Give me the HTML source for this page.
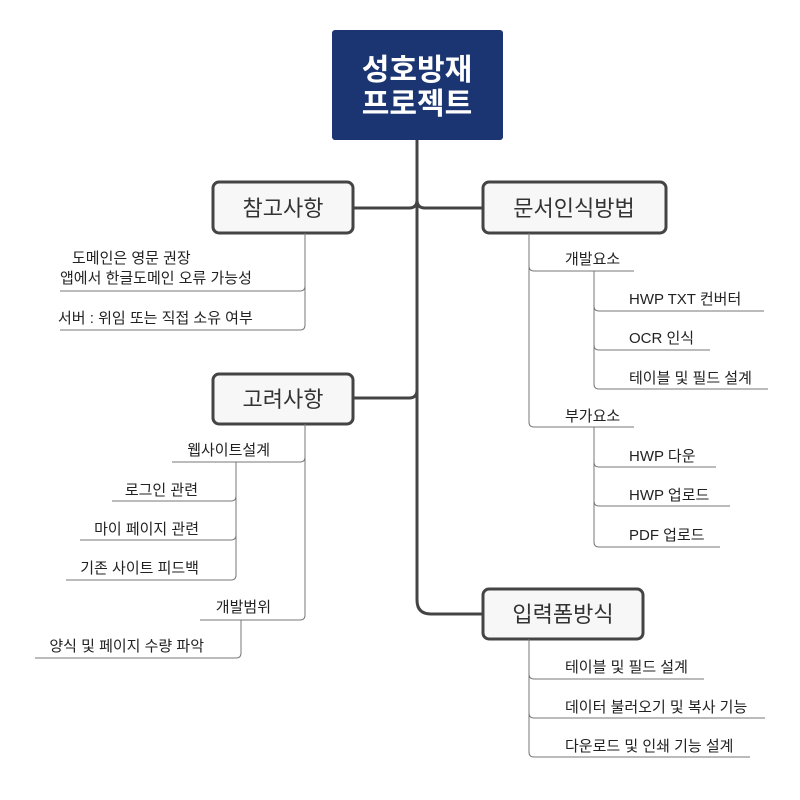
<!DOCTYPE html>
<html><head><meta charset="utf-8"><style>
html,body{margin:0;padding:0;background:#fff;}
svg{display:block;}
text{font-family:"Liberation Sans","Noto Sans CJK KR",sans-serif;}
.t{font-size:15px;fill:#222;}
.b{font-size:22px;fill:#333;text-anchor:middle;}
.l{stroke:#777;stroke-width:1;fill:none;}
.m{stroke:#444;stroke-width:3;fill:none;}
.box{fill:#f7f7f7;stroke:#444;stroke-width:3;}
</style></head><body>
<svg width="800" height="800" viewBox="0 0 800 800">
<!-- trunk -->
<path class="m" d="M417 140 V600 Q417 614 431 614 H483"/>
<path class="m" d="M353 208 H409 Q417 208 417 200 M417 200 Q417 208 425 208 H483"/>
<path class="m" d="M353 398 H409 Q417 398 417 390"/>
<!-- root -->
<rect x="332" y="30" width="171" height="110" rx="3" fill="#1b3572"/>
<text x="417" y="80" font-size="30" font-weight="bold" fill="#fff" text-anchor="middle">성호방재</text>
<text x="417" y="114" font-size="30" font-weight="bold" fill="#fff" text-anchor="middle">프로젝트</text>
<!-- branch boxes -->
<rect class="box" x="213" y="182" width="140" height="51" rx="6"/>
<text class="b" x="283" y="216">참고사항</text>
<rect class="box" x="483" y="182" width="183" height="51" rx="6"/>
<text class="b" x="574" y="216">문서인식방법</text>
<rect class="box" x="213" y="374" width="140" height="50" rx="6"/>
<text class="b" x="283" y="407">고려사항</text>
<rect class="box" x="483" y="589" width="160" height="50" rx="6"/>
<text class="b" x="563" y="622">입력폼방식</text>

<!-- 참고사항 -->
<path class="l" d="M305 233 V325 Q305 330 300 330 H60"/>
<path class="l" d="M305 286 Q305 291 300 291 H60"/>
<text class="t" x="72" y="263">도메인은 영문 권장</text>
<text class="t" x="60" y="283">앱에서 한글도메인 오류 가능성</text>
<text class="t" x="58" y="323">서버 : 위임 또는 직접 소유 여부</text>

<!-- 고려사항 -->
<path class="l" d="M305 424 V615 Q305 620 300 620 H200"/>
<path class="l" d="M305 457 Q305 462 300 462 H172"/>
<path class="l" d="M236 462 V575 Q236 580 231 580 H66"/>
<path class="l" d="M236 496 Q236 501 231 501 H112"/>
<path class="l" d="M236 535 Q236 540 231 540 H80"/>
<path class="l" d="M241 620 V653 Q241 658 236 658 H35"/>
<text class="t" x="270" y="455" text-anchor="end">웹사이트설계</text>
<text class="t" x="198" y="495" text-anchor="end">로그인 관련</text>
<text class="t" x="199" y="534" text-anchor="end">마이 페이지 관련</text>
<text class="t" x="199" y="573" text-anchor="end">기존 사이트 피드백</text>
<text class="t" x="271" y="612" text-anchor="end">개발범위</text>
<text class="t" x="204" y="651" text-anchor="end">양식 및 페이지 수량 파악</text>

<!-- 문서인식방법 -->
<path class="l" d="M529 233 V422 Q529 427 534 427 H634"/>
<path class="l" d="M529 266 Q529 271 534 271 H634"/>
<path class="l" d="M594 271 V384 Q594 389 599 389 H768"/>
<path class="l" d="M594 306 Q594 311 599 311 H764"/>
<path class="l" d="M594 345 Q594 350 599 350 H710"/>
<path class="l" d="M594 427 V542 Q594 547 599 547 H720"/>
<path class="l" d="M594 462 Q594 467 599 467 H716"/>
<path class="l" d="M594 501 Q594 506 599 506 H730"/>
<text class="t" x="565" y="264">개발요소</text>
<text class="t" x="629" y="304">HWP TXT 컨버터</text>
<text class="t" x="629" y="343">OCR 인식</text>
<text class="t" x="629" y="383">테이블 및 필드 설계</text>
<text class="t" x="565" y="421">부가요소</text>
<text class="t" x="629" y="461">HWP 다운</text>
<text class="t" x="629" y="500">HWP 업로드</text>
<text class="t" x="629" y="540">PDF 업로드</text>

<!-- 입력폼방식 -->
<path class="l" d="M529 639 V752 Q529 757 534 757 H750"/>
<path class="l" d="M529 674 Q529 679 534 679 H704"/>
<path class="l" d="M529 713 Q529 718 534 718 H765"/>
<text class="t" x="565" y="672">테이블 및 필드 설계</text>
<text class="t" x="565" y="712">데이터 불러오기 및 복사 기능</text>
<text class="t" x="565" y="751">다운로드 및 인쇄 기능 설계</text>
</svg>
</body></html>
